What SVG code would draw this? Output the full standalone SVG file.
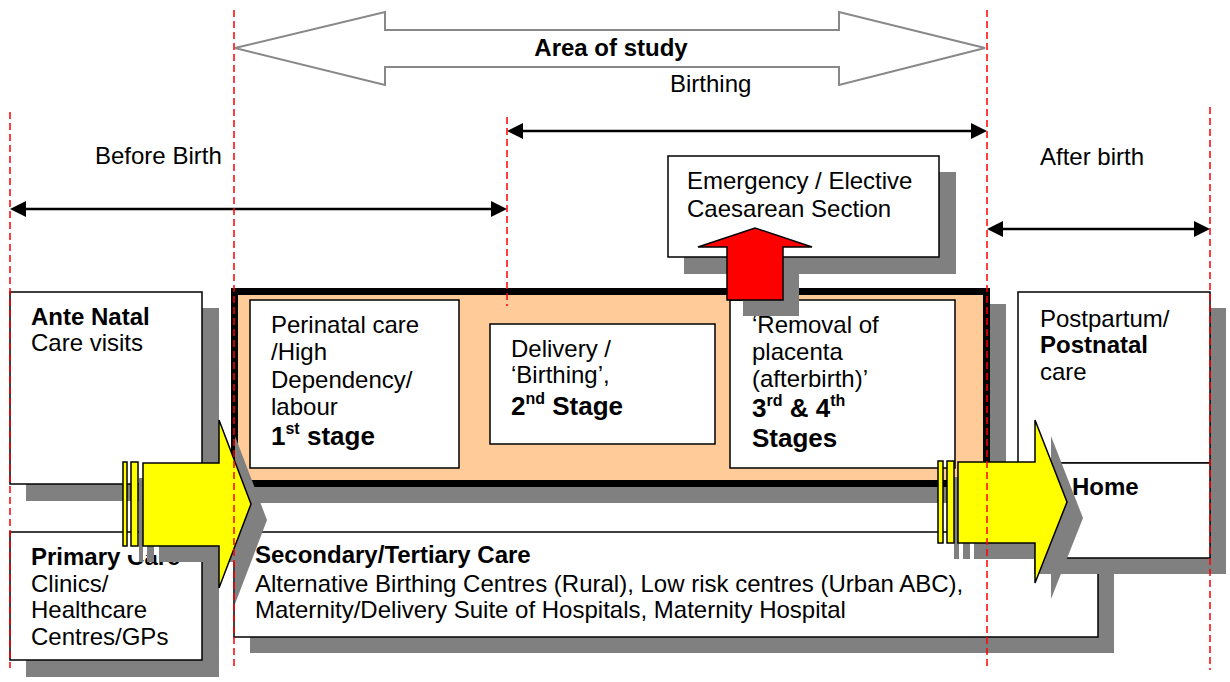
<svg xmlns="http://www.w3.org/2000/svg" width="1230" height="682" viewBox="0 0 1230 682">
<style>
.t{font-family:"Liberation Sans",Arial,sans-serif;font-size:24px;fill:#000}
.b{font-weight:bold}
.sg{font-family:"Liberation Sans",Arial,sans-serif;font-size:26px;font-weight:bold;fill:#000}
.sup{font-size:16px}
.box{fill:#fff;stroke:#000;stroke-width:1.5}
.sh{fill:#808080;stroke:none}
.yel{fill:#ffff00;stroke:#000;stroke-width:1.5}
.red{fill:#ff0000;stroke:#000;stroke-width:1.5}
.dash{stroke:#ff0000;stroke-width:1.5;stroke-dasharray:7 4;fill:none}
.dim{stroke:#000;stroke-width:2.5;fill:none;marker-start:url(#ah);marker-end:url(#ah)}
</style>
<defs>
<marker id="ah" viewBox="0 0 16 16" markerWidth="16" markerHeight="16" refX="12" refY="8" orient="auto-start-reverse" markerUnits="userSpaceOnUse">
<path d="M0,0 L16,8 L0,16 Z" fill="#000"/>
</marker>
</defs>
<rect width="1230" height="682" fill="#fff"/>

<g id="area-of-study">
<polygon points="235,48 385,12 385,30 839,30 839,12 985,48 839,85 839,67 385,67 385,85" fill="#fff" stroke="#888" stroke-width="2"/>
<text class="t b" x="611" y="56" text-anchor="middle">Area of study</text>
</g>
<g id="labels">
<text class="t" x="670" y="92">Birthing</text>
<text class="t" x="95" y="164">Before Birth</text>
<text class="t" x="1040" y="165">After birth</text>
</g>

<g id="connectors">
<line class="dim" x1="14" y1="209" x2="503" y2="209"/>
<line class="dim" x1="511" y1="131" x2="983" y2="131"/>
<line class="dim" x1="991" y1="229" x2="1206" y2="229"/>
</g>

<g id="ante-natal">
<rect class="sh" x="26" y="308" width="193" height="193"/>
<rect class="box" x="10" y="292" width="192" height="192"/>
<text class="t"><tspan class="b" x="31" y="325">Ante Natal</tspan><tspan x="31" y="351">Care visits</tspan></text>
</g>

<g id="primary-care">
<rect class="sh" x="26" y="548" width="193" height="129"/>
<rect class="box" x="10" y="532" width="192" height="128"/>
<text class="t"><tspan class="b" x="31" y="565">Primary Care</tspan><tspan x="31" y="592">Clinics/</tspan><tspan x="31" y="618">Healthcare</tspan><tspan x="31" y="645">Centres/GPs</tspan></text>
</g>

<g id="birthing-unit">
<rect class="sh" x="247" y="304" width="759" height="199"/>
<rect x="234.5" y="291.5" width="752" height="192" fill="#ffcc99" stroke="#000" stroke-width="7"/>
</g>
<g id="stage-1">
<rect class="box" x="250" y="300" width="209" height="168"/>
<text class="t"><tspan x="271" y="333">Perinatal care</tspan><tspan x="271" y="360">/High</tspan><tspan x="271" y="388">Dependency/</tspan><tspan x="271" y="415">labour</tspan></text>
<text class="sg" x="271" y="445">1<tspan class="sup" dy="-11">st</tspan><tspan dy="11"> stage</tspan></text>
</g>
<g id="stage-2">
<rect class="box" x="490" y="324" width="225" height="120"/>
<text class="t"><tspan x="511" y="357">Delivery /</tspan><tspan x="511" y="383">‘Birthing’,</tspan></text>
<text class="sg" x="511" y="415">2<tspan class="sup" dy="-11">nd</tspan><tspan dy="11"> Stage</tspan></text>
</g>
<g id="stage-3-4">
<rect class="box" x="730" y="300" width="225" height="168"/>
<text class="t"><tspan x="752" y="333">‘Removal of</tspan><tspan x="752" y="360">placenta</tspan><tspan x="752" y="387">(afterbirth)’</tspan></text>
<text class="sg" x="752" y="417">3<tspan class="sup" dy="-11">rd</tspan><tspan dy="11"> &amp; 4</tspan><tspan class="sup" dy="-11">th</tspan></text>
<text class="sg" x="752" y="447">Stages</text>
</g>

<g id="caesarean">
<rect class="sh" x="684" y="172" width="272" height="102"/>
<path class="sh" d="M743,316 L743,263 L714,263 L771,244 L828,263 L799,263 L799,316 Z"/>
<rect class="box" x="668" y="156" width="271" height="101"/>
<text class="t"><tspan x="687" y="189">Emergency / Elective</tspan><tspan x="687" y="217">Caesarean Section</tspan></text>
<path class="red" d="M727,300 L727,247 L698,247 L755,228 L812,247 L783,247 L783,300 Z"/>
</g>

<g id="secondary-care">
<rect class="sh" x="250" y="548" width="864" height="105"/>
<rect class="box" x="234" y="532" width="864" height="105"/>
<text class="t"><tspan class="b" x="255" y="563">Secondary/Tertiary Care</tspan><tspan x="255" y="592">Alternative Birthing Centres (Rural), Low risk centres (Urban ABC),</tspan><tspan x="255" y="618">Maternity/Delivery Suite of Hospitals, Maternity Hospital</tspan></text>
</g>

<g id="postnatal">
<rect class="sh" x="1034" y="308" width="192" height="266"/>
<rect class="box" x="1018" y="292" width="192" height="171"/>
<text class="t"><tspan x="1040" y="327">Postpartum/</tspan><tspan class="b" x="1040" y="353">Postnatal</tspan><tspan x="1040" y="380">care</tspan></text>
</g>
<g id="home">
<rect class="box" x="1018" y="463" width="192" height="95"/>
<text class="t b" x="1072" y="495">Home</text>
</g>

<rect x="121" y="546" width="81" height="9" fill="#fff"/>

<g id="arrow-in">
<rect class="sh" x="139" y="478" width="4" height="84"/>
<rect class="sh" x="147" y="478" width="7" height="84"/>
<path class="sh" d="M159,479 L235,479 L235,436 L267,520 L235,604 L235,562 L159,562 Z"/>
<rect class="yel" x="123" y="462" width="4" height="84"/>
<rect class="yel" x="131" y="462" width="7" height="84"/>
<path class="yel" d="M143,463 L219,463 L219,420 L251,504 L219,588 L219,546 L143,546 Z"/>
</g>
<g id="arrow-out">
<rect class="sh" x="954" y="477" width="5" height="82"/>
<rect class="sh" x="963" y="477" width="7" height="82"/>
<path class="sh" d="M974,478 L1051,478 L1051,436 L1083,518 L1051,599 L1051,559 L974,559 Z"/>
<rect class="yel" x="938" y="461" width="5" height="82"/>
<rect class="yel" x="947" y="461" width="7" height="82"/>
<path class="yel" d="M958,462 L1035,462 L1035,420 L1067,502 L1035,583 L1035,543 L958,543 Z"/>
</g>

<g id="phase-lines">
<line class="dash" x1="10" y1="112" x2="10" y2="668"/>
<line class="dash" x1="234" y1="10" x2="234" y2="668"/>
<line class="dash" x1="507" y1="117" x2="507" y2="306"/>
<line class="dash" x1="987" y1="10" x2="987" y2="668"/>
<line class="dash" x1="1210" y1="107" x2="1210" y2="670"/>
</g>
</svg>
